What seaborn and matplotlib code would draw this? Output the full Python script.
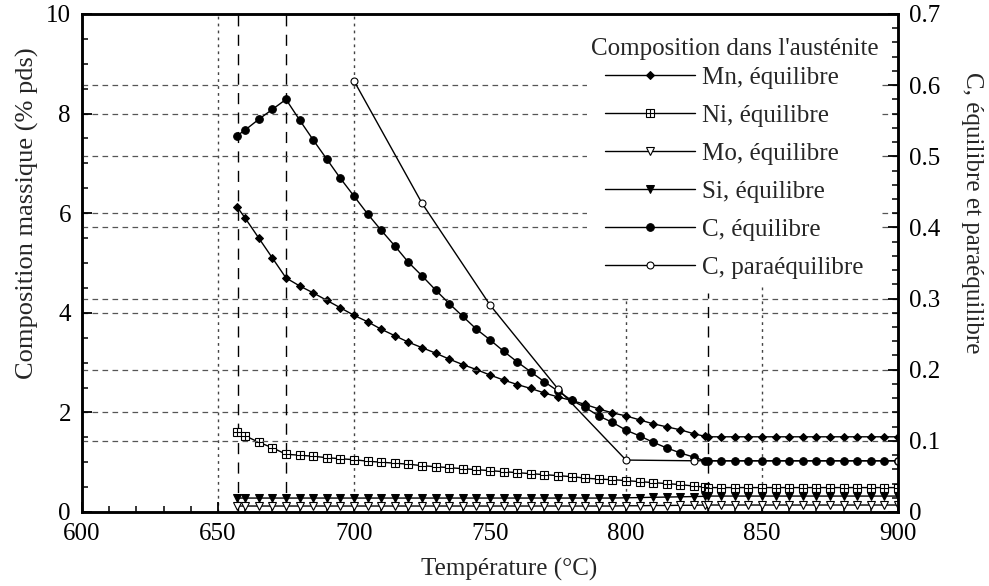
"""Composition of austenite vs temperature (equilibrium and paraequilibrium)."""

import matplotlib

matplotlib.use("Agg")
import matplotlib.pyplot as plt
from matplotlib.ticker import MultipleLocator, FuncFormatter
import seaborn as sns


sns.set_theme(style="ticks")
plt.rcParams["font.family"] = ["Liberation Serif", "DejaVu Serif"]
plt.rcParams.update({
    "font.size": 18,
    "axes.linewidth": 1.8,
    "xtick.direction": "in",
    "ytick.direction": "in",
    "xtick.major.size": 7,
    "ytick.major.size": 7,
    "xtick.minor.size": 4,
    "ytick.minor.size": 4,
    "xtick.major.width": 1.3,
    "ytick.major.width": 1.3,
    "xtick.minor.width": 1.1,
    "ytick.minor.width": 1.1,
    "xtick.color": "black",
    "ytick.color": "black",
    "axes.edgecolor": "black",
})

FS = 18

# temperature (°C)
TEMPS = [657, 660, 665, 670, 675, 680, 685, 690, 695, 700,
         705, 710, 715, 720, 725, 730, 735, 740, 745, 750,
         755, 760, 765, 770, 775, 780, 785, 790, 795, 800,
         805, 810, 815, 820, 825, 829, 830, 835, 840, 845,
         850, 855, 860, 865, 870, 875, 880, 885, 890, 895, 900]

# left axis, % pds
MN_EQ = [6.13, 5.90, 5.50, 5.10, 4.70, 4.54, 4.40, 4.25, 4.10, 3.95,
         3.82, 3.67, 3.54, 3.41, 3.30, 3.19, 3.07, 2.96, 2.86, 2.75,
         2.65, 2.56, 2.48, 2.39, 2.31, 2.24, 2.16, 2.07, 1.99, 1.93,
         1.85, 1.77, 1.71, 1.65, 1.57, 1.52, 1.51, 1.51, 1.51, 1.51,
         1.51, 1.51, 1.51, 1.51, 1.51, 1.51, 1.51, 1.51, 1.51, 1.51, 1.51]
NI_EQ = [1.61, 1.53, 1.40, 1.29, 1.16, 1.14, 1.12, 1.09, 1.07, 1.05,
         1.02, 1.00, 0.98, 0.96, 0.93, 0.91, 0.89, 0.87, 0.85, 0.83,
         0.81, 0.79, 0.77, 0.75, 0.73, 0.71, 0.68, 0.66, 0.65, 0.63,
         0.61, 0.59, 0.57, 0.55, 0.52, 0.50, 0.49, 0.49, 0.49, 0.49,
         0.49, 0.49, 0.49, 0.49, 0.49, 0.49, 0.49, 0.49, 0.49, 0.49, 0.49]
MO_EQ = [0.12, 0.12, 0.12, 0.12, 0.12, 0.12, 0.12, 0.12, 0.12, 0.12,
         0.12, 0.12, 0.12, 0.12, 0.12, 0.12, 0.12, 0.12, 0.12, 0.12,
         0.12, 0.12, 0.12, 0.12, 0.12, 0.12, 0.12, 0.12, 0.12, 0.125,
         0.125, 0.13, 0.13, 0.135, 0.135, 0.14, 0.14, 0.14, 0.14, 0.14,
         0.14, 0.14, 0.14, 0.14, 0.14, 0.14, 0.14, 0.14, 0.14, 0.14, 0.14]
SI_EQ = [0.28, 0.28, 0.28, 0.28, 0.28, 0.28, 0.28, 0.28, 0.28, 0.28,
         0.28, 0.28, 0.28, 0.28, 0.28, 0.28, 0.28, 0.28, 0.28, 0.28,
         0.28, 0.28, 0.28, 0.28, 0.28, 0.28, 0.28, 0.28, 0.28, 0.285,
         0.29, 0.295, 0.30, 0.305, 0.31, 0.315, 0.32, 0.32, 0.32, 0.32,
         0.32, 0.32, 0.32, 0.32, 0.32, 0.32, 0.32, 0.32, 0.32, 0.32, 0.32]

# right axis, carbon
C_EQ = [0.529, 0.537, 0.552, 0.566, 0.580, 0.551, 0.523, 0.496, 0.469, 0.444,
        0.419, 0.396, 0.374, 0.351, 0.332, 0.312, 0.293, 0.275, 0.257, 0.242,
        0.226, 0.211, 0.197, 0.183, 0.170, 0.157, 0.147, 0.135, 0.126, 0.115,
        0.107, 0.098, 0.090, 0.083, 0.077, 0.072, 0.072, 0.072, 0.072, 0.072,
        0.072, 0.072, 0.072, 0.072, 0.072, 0.072, 0.072, 0.072, 0.072, 0.072, 0.072]
C_PARA_TEMPS = [700, 725, 750, 775, 800, 825, 900]
C_PARA = [0.606, 0.434, 0.291, 0.173, 0.073, 0.072, 0.072]

LABELS = ["Mn, équilibre", "Ni, équilibre", "Mo, équilibre", "Si, équilibre",
          "C, équilibre", "C, paraéquilibre"]

W, H = 989, 586
fig = plt.figure(figsize=(W / 100, H / 100), dpi=100)
ax = fig.add_axes([82 / W, 74 / H, 816 / W, 498 / H])
ax2 = ax.twinx()

grid_kw = dict(color="#555555", lw=0.9, linestyle=(0, (4.5, 3.5)), zorder=0)
for v in [2, 4, 6, 8]:
    ax.axhline(v, **grid_kw)
for v in [0.1, 0.2, 0.3, 0.4, 0.5, 0.6]:
    ax2.axhline(v, **grid_kw)
dot_kw = dict(color="#444444", lw=1.0, linestyle=(0, (2, 3)), zorder=0)
ax.axvline(650, **dot_kw)
ax.axvline(700, **dot_kw)
ax.axvline(800, ymax=0.43, **dot_kw)
ax.axvline(850, ymax=0.46, **dot_kw)
dash_kw = dict(color="black", lw=1.0, linestyle=(0, (8, 6)), zorder=0)
ax.axvline(657.5, **dash_kw)
ax.axvline(675, **dash_kw)
ax.axvline(830, ymax=0.44, **dash_kw)

line_kw = dict(color="black", lw=1.0)
sns.lineplot(x=TEMPS, y=MN_EQ, ax=ax, marker="D", ms=4.2, mfc="black", mec="black", **line_kw)
h_mn = ax.lines[-1]
sns.lineplot(x=TEMPS, y=NI_EQ, ax=ax, marker="s", ms=5.5, mfc="white", mec="black", mew=0.8, **line_kw)
h_ni = ax.lines[-1]
sns.lineplot(x=TEMPS, y=NI_EQ, ax=ax, marker="+", ms=5.5, mew=0.8, mec="black",
             color="black", linestyle="none")
h_ni_plus = ax.lines[-1]
sns.lineplot(x=TEMPS, y=MO_EQ, ax=ax, marker="v", ms=6, mfc="white", mec="black", mew=0.8, **line_kw)
h_mo = ax.lines[-1]
sns.lineplot(x=TEMPS, y=SI_EQ, ax=ax, marker="v", ms=6, mfc="black", mec="black", **line_kw)
h_si = ax.lines[-1]
sns.lineplot(x=TEMPS, y=C_EQ, ax=ax2, marker="o", ms=5.5, mfc="black", mec="black", **line_kw)
h_ceq = ax2.lines[-1]
sns.lineplot(x=C_PARA_TEMPS, y=C_PARA, ax=ax2, marker="o", ms=5, mfc="white", mec="black", mew=0.8, **line_kw)
h_cpara = ax2.lines[-1]

ax.set_xlim(600, 900)
ax.set_ylim(0, 10)
ax2.set_ylim(0, 0.7)
ax.xaxis.set_major_locator(MultipleLocator(50))
ax.xaxis.set_minor_locator(MultipleLocator(10))
ax.yaxis.set_major_locator(MultipleLocator(2))
ax.yaxis.set_minor_locator(MultipleLocator(0.5))
ax2.yaxis.set_major_locator(MultipleLocator(0.1))
ax2.yaxis.set_minor_locator(MultipleLocator(0.02))
ax.yaxis.set_major_formatter(FuncFormatter(lambda v, _: f"{v:g}"))
ax2.yaxis.set_major_formatter(FuncFormatter(lambda v, _: "0" if abs(v) < 1e-9 else f"{v:.1f}"))
ax.tick_params(axis="both", which="both", labelsize=FS, pad=8, right=False, top=False)
ax2.tick_params(axis="y", which="both", labelsize=FS, pad=8)

ax.set_xlabel("Température (°C)", fontsize=FS, labelpad=9)
ax.set_ylabel("Composition massique (% pds)", fontsize=FS + 1, labelpad=5)
ax2.set_ylabel("C, équilibre et paraéquilibre", fontsize=FS, rotation=270, labelpad=31)
ax.xaxis.label.set_x(0.523)
ax.yaxis.label.set_y(0.6)
ax2.yaxis.label.set_y(0.6)

leg = ax2.legend(
    [h_mn, (h_ni, h_ni_plus), h_mo, h_si, h_ceq, h_cpara],
    LABELS,
    title="Composition dans l'austénite",
    title_fontsize=FS,
    fontsize=FS,
    loc="upper right",
    bbox_to_anchor=(882 / W, 1 - 34 / H),
    bbox_transform=fig.transFigure,
    frameon=True,
    facecolor="white",
    edgecolor="none",
    framealpha=1.0,
    fancybox=False,
    handlelength=3.6,
    handletextpad=0.3,
    labelspacing=0.62,
    borderpad=0.15,
    borderaxespad=0,
)
leg._legend_box.sep = 4.7
leg.set_zorder(5)

fig.savefig("out.png", dpi=100)
